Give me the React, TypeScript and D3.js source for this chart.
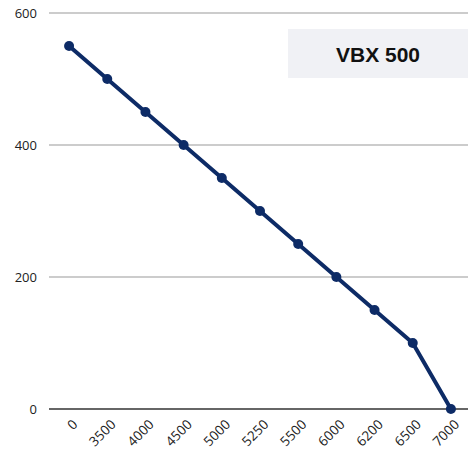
import React from "react";
import { scaleBand, scaleLinear, line } from "d3";

const categories = ["0", "3500", "4000", "4500", "5000", "5250", "5500", "6000", "6200", "6500", "7000"];
const values = [550, 500, 450, 400, 350, 300, 250, 200, 150, 100, 0];
const yTicks = [0, 200, 400, 600];
const title = "VBX 500";

const W = 468;
const H = 461;
const left = 49;
const right = 468;
const top = 13;
const bottom = 409;

export default function App() {
  const x = scaleBand().domain(categories).range([left + 1, right + 2]);
  const y = scaleLinear().domain([0, 600]).range([bottom, top]);
  const cx = (c: string) => (x(c) as number) + x.bandwidth() / 2;
  const pts = categories.map((c, i) => [cx(c), y(values[i])] as [number, number]);
  const path = line()(pts) as string;

  return (
    <svg
      width={W}
      height={H}
      style={{ position: "absolute", left: 0, top: 0, fontFamily: "'Open Sans', sans-serif" }}
    >
      {yTicks.map(t => (
        <g key={t}>
          <line
            x1={left}
            x2={right}
            y1={y(t)}
            y2={y(t)}
            stroke={t === 0 ? "#666" : "#bbb"}
            strokeWidth={t === 0 ? 2 : 1.5}
          />
          <text x={37} y={y(t)} dy="0.35em" textAnchor="end" fontSize={13} fill="#222">
            {t}
          </text>
        </g>
      ))}
      {categories.map(c => (
        <text
          key={c}
          transform={`translate(${cx(c) + 6},${y(0) + 13}) rotate(-45)`}
          textAnchor="end"
          dy="0.35em"
          fontSize={13.5}
          fill="#222"
        >
          {c}
        </text>
      ))}
      <rect x={288} y={29} width={180} height={49} fill="#f0f1f5" />
      <text
        x={378}
        y={62}
        textAnchor="middle"
        fontSize={21}
        fontWeight="bold"
        fontFamily="'Liberation Sans', Arial, sans-serif"
        fill="#111"
      >
        {title}
      </text>
      <path d={path} fill="none" stroke="#0d2b66" strokeWidth={4} strokeLinejoin="round" />
      {pts.map((p, i) => (
        <circle key={i} cx={p[0]} cy={p[1]} r={5} fill="#0d2b66" />
      ))}
    </svg>
  );
}
